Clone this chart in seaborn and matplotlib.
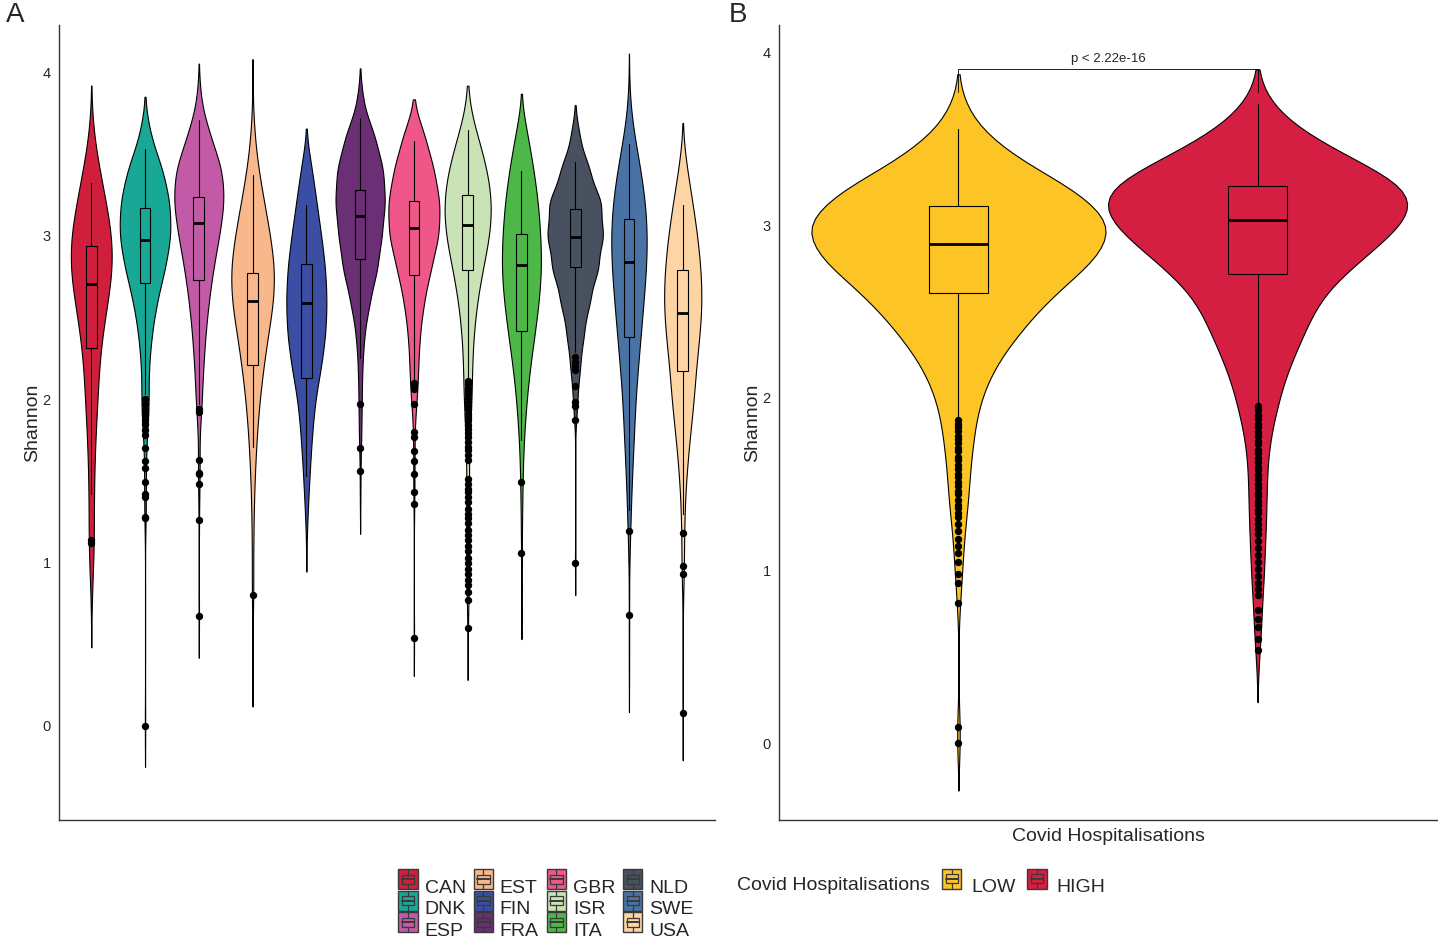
import numpy as np
import pandas as pd
import seaborn as sns
import matplotlib.pyplot as plt
from matplotlib.patches import Rectangle, Patch
from matplotlib.lines import Line2D

# ---- panel A: Shannon diversity per country ----
countries = ['CAN', 'DNK', 'ESP', 'EST', 'FIN', 'FRA', 'GBR', 'ISR', 'ITA', 'NLD', 'SWE', 'USA']
country_colors = ['#D01F3C', '#19A896', '#C25AA8', '#F8B88B', '#3A4EA3', '#6A2F74',
                  '#EE5788', '#C9E3B6', '#4DB848', '#48515F', '#4A73A5', '#FDD5A5']

# value grid and relative frequency at each level
levels_a = [0.4, 0.6, 0.8, 1.0, 1.2, 1.4, 1.6, 1.8, 2.0, 2.2, 2.4, 2.6, 2.8, 3.0, 3.2, 3.4, 3.6, 3.8, 4.0]
can_n = [0, 0, 2, 7, 8, 9, 11, 15, 22, 26, 38, 57, 75, 72, 51, 29, 9, 0, 0]
dnk_n = [0, 0, 0, 0, 0, 0, 0, 2, 9, 13, 23, 41, 70, 91, 87, 63, 20, 0, 0]
esp_n = [0, 0, 0, 0, 0, 0, 0, 2, 9, 15, 22, 33, 48, 68, 85, 80, 40, 8, 0]
est_n = [1, 0, 2, 2, 3, 5, 9, 15, 24, 37, 53, 72, 76, 60, 40, 20, 7, 1, 0]
fin_n = [0, 0, 0, 0, 2, 7, 13, 20, 30, 51, 66, 70, 65, 51, 35, 20, 0, 0, 0]
fra_n = [0, 0, 0, 0, 0, 1, 0, 4, 5, 8, 15, 35, 63, 78, 91, 85, 55, 12, 0]
gbr_n = [0, 0, 0, 0, 0, 0, 0, 0, 8, 15, 22, 37, 63, 93, 97, 75, 43, 0, 0]
isr_n = [0, 0, 0, 0, 0, 0, 0, 0, 8, 15, 23, 36, 59, 89, 99, 79, 42, 0, 0]
ita_n = [0, 0, 1, 0, 2, 3, 5, 11, 20, 33, 51, 67, 77, 73, 64, 47, 26, 0, 0]
nld_n = [0, 0, 0, 0, 0, 0, 0, 0, 6, 15, 33, 57, 90, 110, 103, 56, 17, 0, 0]
swe_n = [1, 0, 0, 1, 4, 8, 13, 19, 23, 33, 43, 53, 63, 67, 60, 43, 20, 3, 0]
usa_n = [0, 0, 1, 3, 4, 8, 16, 27, 40, 47, 61, 69, 64, 52, 35, 16, 0, 0, 0]
counts_a = [can_n, dnk_n, esp_n, est_n, fin_n, fra_n, gbr_n, isr_n, ita_n, nld_n, swe_n, usa_n]

# box statistics
q1_a = [2.31, 2.71, 2.73, 2.21, 2.13, 2.855, 2.76, 2.79, 2.42, 2.81, 2.38, 2.17]
med_a = [2.706, 2.973, 3.08, 2.60, 2.59, 3.12, 3.045, 3.065, 2.824, 2.99, 2.84, 2.53]
q3_a = [2.94, 3.17, 3.24, 2.77, 2.83, 3.28, 3.21, 3.25, 3.01, 3.165, 3.10, 2.79]
lo_a = [1.42, 2.03, 1.97, 1.71, 1.53, 2.25, 2.12, 2.12, 1.75, 2.29, 1.32, 1.30]
hi_a = [3.32, 3.53, 3.71, 3.37, 3.19, 3.72, 3.58, 3.65, 3.395, 3.45, 3.56, 3.19]

# outliers
can_out = [1.14, 1.12]
dnk_out = [2.00, 1.97, 1.94, 1.92, 1.90, 1.87, 1.85, 1.81, 1.78, 1.70, 1.62, 1.58, 1.49,
           1.42, 1.40, 1.28, 1.27, 0.00]
esp_out = [1.94, 1.92, 1.63, 1.55, 1.54, 1.48, 1.26, 0.67]
est_out = [0.80]
fin_out = []
fra_out = [1.97, 1.70, 1.56]
gbr_out = [2.10, 2.08, 2.06, 1.97, 1.80, 1.77, 1.68, 1.62, 1.54, 1.43, 1.36, 0.54]
isr_out = [2.11, 2.09, 2.07, 2.05, 2.03, 2.01, 1.98, 1.96, 1.94, 1.91, 1.89, 1.87, 1.84,
           1.82, 1.79, 1.77, 1.74, 1.71, 1.69, 1.66, 1.63, 1.51, 1.48, 1.45, 1.43, 1.40,
           1.37, 1.33, 1.30, 1.27, 1.24, 1.20, 1.17, 1.14, 1.10, 1.07, 1.03, 1.00, 0.96,
           0.93, 0.89, 0.86, 0.82, 0.77, 0.60]
ita_out = [1.49, 1.06]
nld_out = [2.26, 2.23, 2.20, 2.18, 2.08, 1.98, 1.96, 1.87, 1.00]
swe_out = [1.19, 0.68]
usa_out = [1.18, 0.98, 0.93, 0.08]
outliers_a = [can_out, dnk_out, esp_out, est_out, fin_out, fra_out, gbr_out, isr_out,
              ita_out, nld_out, swe_out, usa_out]

# ---- panel B: LOW vs HIGH hospitalisations ----
groups = ['LOW', 'HIGH']
group_colors = ['#FDC426', '#D41F43']
levels_b = [0.8, 1.0, 1.2, 1.4, 1.6, 1.8, 2.0, 2.2, 2.4, 2.6, 2.8, 3.0, 3.2, 3.4, 3.6, 3.8]
low_n = [0, 0, 0, 1, 2, 6, 19, 33, 56, 83, 122, 140, 106, 46, 12, 0]
high_n = [0, 1, 1, 0, 0, 3, 16, 28, 42, 53, 88, 126, 146, 74, 22, 0]
counts_b = [low_n, high_n]

q1_b = [2.61, 2.72]
med_b = [2.89, 3.03]
q3_b = [3.11, 3.23]
lo_b = [1.87, 1.96]
hi_b = [3.56, 3.70]

low_out = [1.87, 1.85, 1.83, 1.81, 1.78, 1.76, 1.74, 1.71, 1.69, 1.66, 1.64, 1.61, 1.59,
           1.56, 1.54, 1.51, 1.49, 1.46, 1.44, 1.41, 1.38, 1.36, 1.33, 1.31, 1.27, 1.23,
           1.18, 1.14, 1.10, 1.05, 0.98, 0.93, 0.81, 0.09, 0.00]
high_out = [1.95, 1.93, 1.90, 1.88, 1.85, 1.83, 1.80, 1.78, 1.75, 1.73, 1.70, 1.68, 1.65,
            1.63, 1.60, 1.58, 1.55, 1.53, 1.50, 1.48, 1.45, 1.43, 1.40, 1.38, 1.35, 1.33,
            1.30, 1.27, 1.24, 1.21, 1.17, 1.13, 1.09, 1.05, 1.01, 0.97, 0.93, 0.89, 0.86,
            0.77, 0.72, 0.67, 0.60, 0.54]
outliers_b = [low_out, high_out]
p_label = 'p < 2.22e-16'


def long_table(names, levels, counts, outliers, col, total):
    # every violin gets the same number of samples (ggplot's equal-area violins)
    rows = []
    for name, n, out in zip(names, counts, outliers):
        n = np.asarray(n, dtype=float)
        k = total / (n.sum() + len(out))
        vals = np.concatenate([np.repeat(levels, np.round(n * k).astype(int)),
                               np.repeat(np.asarray(out, dtype=float), int(round(k)))])
        rows.append(pd.DataFrame({col: name, 'Shannon': vals}))
    return pd.concat(rows, ignore_index=True)


df_a = long_table(countries, levels_a, counts_a, outliers_a, 'country', 4400)
df_b = long_table(groups, levels_b, counts_b, outliers_b, 'hosp', 6500)

sns.set_style('white')
plt.rcParams['font.family'] = ['Liberation Sans', 'DejaVu Sans']


def draw_boxes(ax, q1, med, q3, lo, hi, outs, colors, width):
    stats = [dict(q1=a, med=m, q3=b, whislo=l, whishi=h, fliers=o)
             for a, m, b, l, h, o in zip(q1, med, q3, lo, hi, outs)]
    bp = ax.bxp(stats, positions=range(len(stats)), widths=width, patch_artist=True,
                showcaps=False, manage_ticks=False,
                boxprops=dict(edgecolor='black', linewidth=0.8),
                medianprops=dict(color='black', linewidth=2),
                whiskerprops=dict(color='black', linewidth=0.8),
                flierprops=dict(marker='o', markerfacecolor='black', markeredgecolor='black',
                                markersize=4.3, linestyle='none'))
    for box, c in zip(bp['boxes'], colors):
        box.set_facecolor(c)


def style_axis(ax, ylim, xlim):
    ax.set_ylim(*ylim)
    ax.set_xlim(*xlim)
    ax.set_xticks([])
    ax.set_yticks([0, 1, 2, 3, 4])
    ax.tick_params(axis='y', length=0, labelsize=10.5, pad=6)
    for s in ['top', 'right']:
        ax.spines[s].set_visible(False)
    for s in ['left', 'bottom']:
        ax.spines[s].set_color('#333333')
        ax.spines[s].set_linewidth(1.0)
    ax.set_ylabel('Shannon', fontsize=14, labelpad=1)


fig = plt.figure(figsize=(14.38, 9.40), dpi=100)
ax_a = fig.add_axes([59 / 1438, 120 / 940, 656 / 1438, 795 / 940])
ax_b = fig.add_axes([779 / 1438, 120 / 940, 658 / 1438, 795 / 940])

sns.violinplot(data=df_a, x='country', y='Shannon', hue='country', order=countries,
               hue_order=countries, palette=country_colors, saturation=1, inner=None,
               cut=2, bw_method=0.27, width=1.03, density_norm='area', common_norm=True,
               linecolor='black', linewidth=0.8, legend=False, ax=ax_a)
draw_boxes(ax_a, q1_a, med_a, q3_a, lo_a, hi_a, outliers_a, country_colors, 0.2)
style_axis(ax_a, (-0.576, 4.29), (-0.6, 11.6))
ax_a.set_xlabel('')

sns.violinplot(data=df_b, x='hosp', y='Shannon', hue='hosp', order=groups,
               hue_order=groups, palette=group_colors, saturation=1, inner=None,
               cut=2, bw_method=0.27, width=1.0, density_norm='area', common_norm=True,
               linecolor='black', linewidth=0.8, legend=False, ax=ax_b)
draw_boxes(ax_b, q1_b, med_b, q3_b, lo_b, hi_b, outliers_b, group_colors, 0.2)
style_axis(ax_b, (-0.446, 4.16), (-0.6, 1.6))
ax_b.set_xlabel('Covid Hospitalisations', fontsize=14, labelpad=6)

# significance bracket
ax_b.plot([0, 0, 1, 1], [3.77, 3.905, 3.905, 3.77], color='black', linewidth=0.6)
ax_b.text(0.5, 3.93, p_label, ha='center', va='bottom', fontsize=9.5)

fig.text(6 / 1438, 1 - 15 / 940, 'A', fontsize=20, va='center', ha='left')
fig.text(729 / 1438, 1 - 15 / 940, 'B', fontsize=20, va='center', ha='left')


class BoxKey:
    # legend key: violin square with a small boxplot inside
    def legend_artist(self, legend, orig_handle, fontsize, handlebox):
        x0, y0 = handlebox.xdescent, handlebox.ydescent
        w, h = handlebox.width, handlebox.height
        fc = orig_handle.get_facecolor()
        tr = handlebox.get_transform()
        ec = '#3a3a3a'
        outer = Rectangle((x0, y0), w, h, facecolor=fc, edgecolor=ec, linewidth=1.0, transform=tr)
        inner = Rectangle((x0 + 0.18 * w, y0 + 0.27 * h), 0.64 * w, 0.46 * h,
                          facecolor=fc, edgecolor=ec, linewidth=0.9, transform=tr)
        med = Line2D([x0 + 0.18 * w, x0 + 0.82 * w], [y0 + 0.5 * h] * 2, color=ec,
                     linewidth=1.4, transform=tr)
        top = Line2D([x0 + 0.5 * w] * 2, [y0 + 0.73 * h, y0 + h], color=ec, linewidth=0.9, transform=tr)
        bot = Line2D([x0 + 0.5 * w] * 2, [y0, y0 + 0.27 * h], color=ec, linewidth=0.9, transform=tr)
        for art in [outer, inner, med, top, bot]:
            handlebox.add_artist(art)
        return outer


handles_a = [Patch(facecolor=c) for c in country_colors]
fig.legend(handles_a, countries, handler_map={Patch: BoxKey()}, ncol=4, loc='center',
           bbox_to_anchor=(546 / 1438, 1 - 908 / 940), frameon=False, fontsize=14,
           handlelength=1.0, handleheight=1.2, handletextpad=0.35, columnspacing=0.4,
           labelspacing=0.05, borderpad=0, borderaxespad=0)

fig.text(737 / 1438, 1 - 886 / 940, 'Covid Hospitalisations', va='center', ha='left', fontsize=14)
handles_b = [Patch(facecolor=c) for c in group_colors]
fig.legend(handles_b, groups, handler_map={Patch: BoxKey()}, ncol=2, loc='center left',
           bbox_to_anchor=(942 / 1438, 1 - 886 / 940), frameon=False, fontsize=14,
           handlelength=1.0, handleheight=1.2, handletextpad=0.5, columnspacing=0.6,
           borderpad=0, borderaxespad=0)

fig.savefig('out.png', dpi=100)
